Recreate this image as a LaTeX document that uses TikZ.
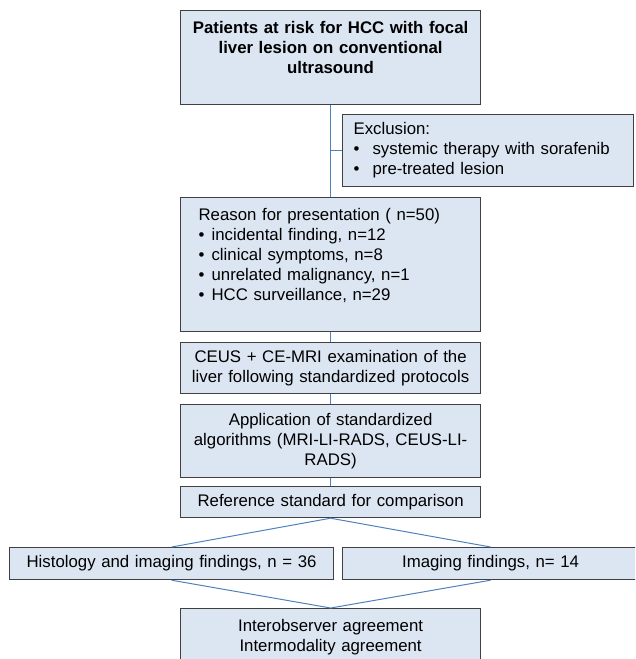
\documentclass[tikz,border=0pt]{standalone}
\usepackage{fontspec}
\setmainfont{Liberation Sans}
\usetikzlibrary{positioning,calc}
\definecolor{boxfill}{HTML}{DCE6F2}
\definecolor{boxline}{HTML}{404040}
\definecolor{linkblue}{HTML}{4F81BD}
\newcommand{\bul}[1][13pt]{\makebox[#1][l]{\textbullet}}

\begin{document}
\begin{tikzpicture}[
  x=1pt, y=-1pt,
  font=\fontsize{16.8}{20}\selectfont,
  box/.style={draw=boxline, fill=boxfill, line width=1.2pt, inner ysep=0pt, anchor=north west},
  cbox/.style={box, align=center, inner xsep=4pt},
  lbox/.style={box, align=left},
  link/.style={draw=linkblue, line width=1pt}
]
\useasboundingbox (0,0) rectangle (635,659);
\clip (0,0) rectangle (635,659);

% Flow: patient selection down to the agreement analysis
\node[cbox, text width=292pt, minimum height=94pt, font=\fontsize{16.8}{20}\selectfont\bfseries] (risk) at (180,10)
  {Patients at risk for HCC with focal\\ liver lesion on conventional\\ ultrasound\\ \mbox{}};
\node[lbox, text width=269pt, inner xsep=11pt, minimum height=72pt] (excl) at (342,114)
  {Exclusion:\\ \bul[19pt]systemic therapy with sorafenib\\ \bul[19pt]pre-treated lesion};
\node[lbox, text width=264pt, inner xsep=18pt, minimum height=134pt] (reason) at (180,197)
  {Reason for presentation ( n=50)\\ \bul incidental finding, n=12\\ \bul clinical symptoms, n=8\\
   \bul unrelated malignancy, n=1\\ \bul HCC surveillance, n=29\\ \mbox{}};
\node[cbox, text width=292pt, minimum height=51pt] (ceus) at (180,342)
  {CEUS + CE-MRI examination of the\\ liver following standardized protocols};
\node[cbox, text width=292pt, minimum height=73pt] (algo) at (180,404)
  {Application of standardized\\ algorithms (MRI-LI-RADS, CEUS-LI-\\ RADS)};
\node[cbox, text width=292pt, minimum height=31pt] (refstd) at (180,486)
  {Reference standard for comparison};
\node[cbox, text width=316pt, minimum height=32pt] (histo) at (9,547)
  {Histology and imaging findings, n = 36};
\node[cbox, text width=288pt, minimum height=32pt] (imag) at (342,547)
  {Imaging findings, n= 14};
\node[cbox, text width=292pt, minimum height=57pt] (agree) at (180,608)
  {Interobserver agreement\\ Intermodality agreement};

% Connectors
\coordinate (br) at (risk.south |- excl.west);
\draw[link] (risk) -- (reason);
\draw[link] (br) -- (excl.west);
\draw[link] (reason) -- (ceus);
\draw[link] (ceus) -- (algo);
\draw[link] (algo) -- (refstd);
\draw[link] (refstd.south) -- (histo.north);
\draw[link] (refstd.south) -- (imag.north);
\draw[link] (histo.south) -- (agree.north);
\draw[link] (imag.south) -- (agree.north);
\end{tikzpicture}
\end{document}
